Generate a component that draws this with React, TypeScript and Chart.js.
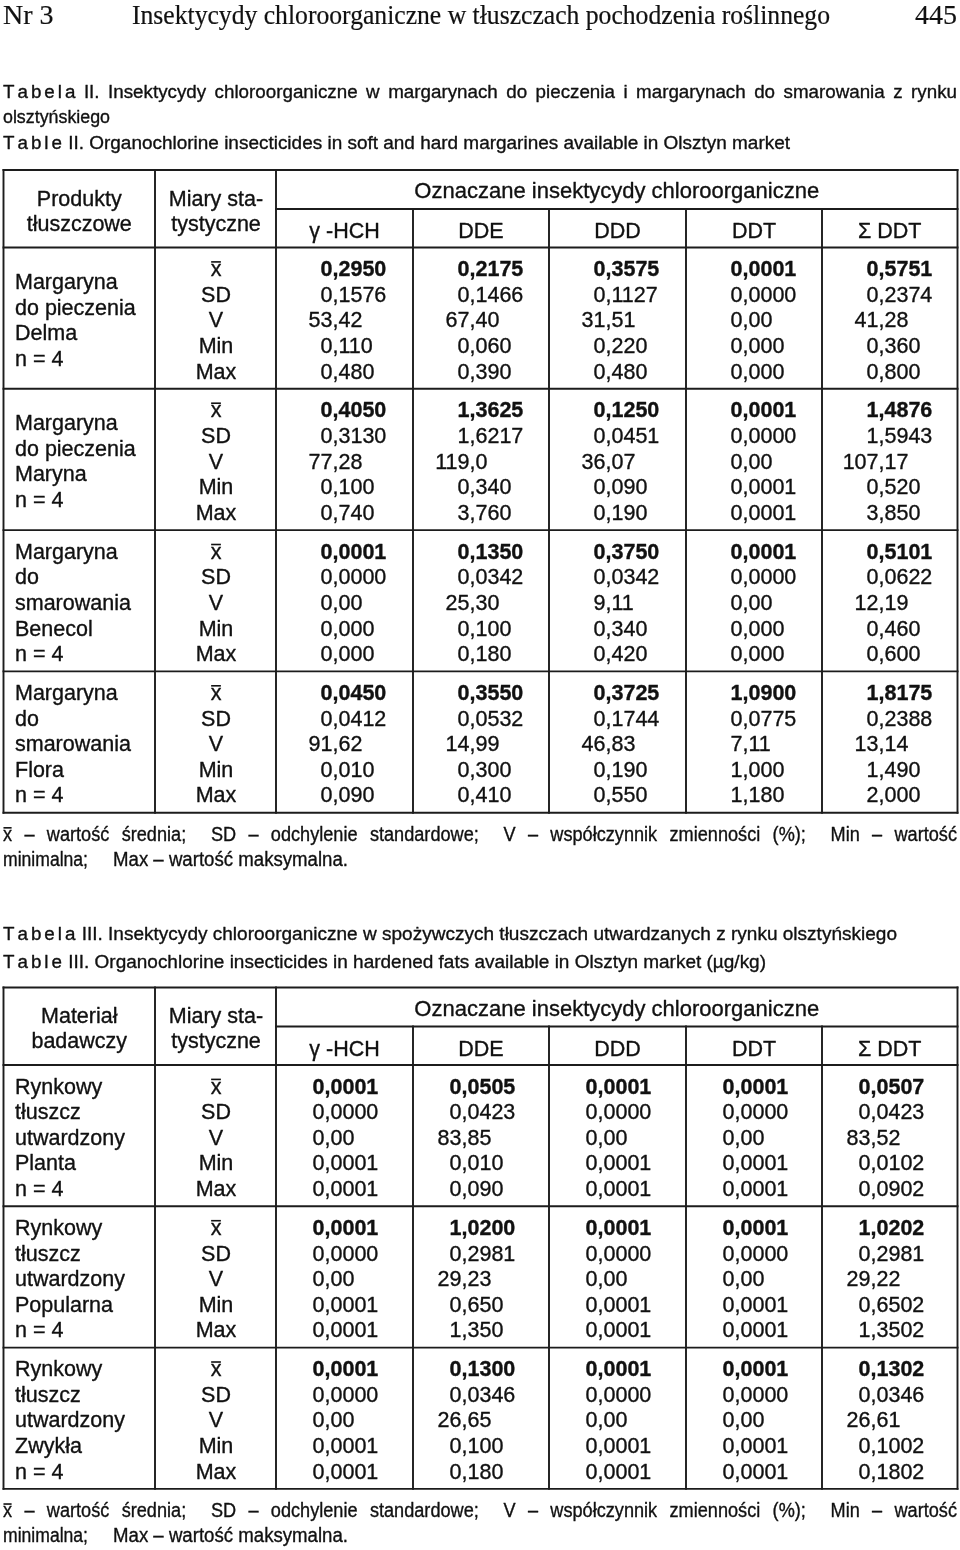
import { useEffect, useRef } from "react";
import { Chart, registerables } from "chart.js";

Chart.register(...registerables);

// ---------------- texts ----------------
const runningHead = ["Nr 3", "Insektycydy chloroorganiczne w tłuszczach pochodzenia roślinnego", "445"];
const table2CaptionPl = [
  "Tabela II. Insektycydy chloroorganiczne w margarynach do pieczenia i margarynach do smarowania z rynku",
  "olsztyńskiego",
];
const table2CaptionEn = "Table II. Organochlorine insecticides in soft and hard margarines available in Olsztyn market";
const table3CaptionPl = "Tabela III. Insektycydy chloroorganiczne w spożywczych tłuszczach utwardzanych z rynku olsztyńskiego";
const table3CaptionEn = "Table III. Organochlorine insecticides in hardened fats available in Olsztyn market (µg/kg)";
const table2FirstHeader = ["Produkty", "tłuszczowe"];
const table3FirstHeader = ["Materiał", "badawczy"];
const statsHeader = ["Miary sta-", "tystyczne"];
const compoundsHeader = "Oznaczane insektycydy chloroorganiczne";
const compounds = ["γ -HCH", "DDE", "DDD", "DDT", "Σ DDT"];
const statistics = ["x\u0304", "SD", "V", "Min", "Max"];
const footnote = [
  "x\u0304 – wartość średnia; SD – odchylenie standardowe; V – współczynnik zmienności (%); Min – wartość",
  "minimalna;",
  "Max – wartość maksymalna.",
];

// ---------------- products ----------------
const table2Products = [
  ["Margaryna", "do pieczenia", "Delma", "n = 4"],
  ["Margaryna", "do pieczenia", "Maryna", "n = 4"],
  ["Margaryna", "do", "smarowania", "Benecol", "n = 4"],
  ["Margaryna", "do", "smarowania", "Flora", "n = 4"],
];
const table3Products = [
  ["Rynkowy", "tłuszcz", "utwardzony", "Planta", "n = 4"],
  ["Rynkowy", "tłuszcz", "utwardzony", "Popularna", "n = 4"],
  ["Rynkowy", "tłuszcz", "utwardzony", "Zwykła", "n = 4"],
];

// ---------------- values: [compound][x̄, SD, V, Min, Max] ----------------
const delmaValues = [
  ["0,2950", "0,1576", "53,42", "0,110", "0,480"],
  ["0,2175", "0,1466", "67,40", "0,060", "0,390"],
  ["0,3575", "0,1127", "31,51", "0,220", "0,480"],
  ["0,0001", "0,0000", "0,00", "0,000", "0,000"],
  ["0,5751", "0,2374", "41,28", "0,360", "0,800"],
];
const marynaValues = [
  ["0,4050", "0,3130", "77,28", "0,100", "0,740"],
  ["1,3625", "1,6217", "119,0", "0,340", "3,760"],
  ["0,1250", "0,0451", "36,07", "0,090", "0,190"],
  ["0,0001", "0,0000", "0,00", "0,0001", "0,0001"],
  ["1,4876", "1,5943", "107,17", "0,520", "3,850"],
];
const benecolValues = [
  ["0,0001", "0,0000", "0,00", "0,000", "0,000"],
  ["0,1350", "0,0342", "25,30", "0,100", "0,180"],
  ["0,3750", "0,0342", "9,11", "0,340", "0,420"],
  ["0,0001", "0,0000", "0,00", "0,000", "0,000"],
  ["0,5101", "0,0622", "12,19", "0,460", "0,600"],
];
const floraValues = [
  ["0,0450", "0,0412", "91,62", "0,010", "0,090"],
  ["0,3550", "0,0532", "14,99", "0,300", "0,410"],
  ["0,3725", "0,1744", "46,83", "0,190", "0,550"],
  ["1,0900", "0,0775", "7,11", "1,000", "1,180"],
  ["1,8175", "0,2388", "13,14", "1,490", "2,000"],
];
const plantaValues = [
  ["0,0001", "0,0000", "0,00", "0,0001", "0,0001"],
  ["0,0505", "0,0423", "83,85", "0,010", "0,090"],
  ["0,0001", "0,0000", "0,00", "0,0001", "0,0001"],
  ["0,0001", "0,0000", "0,00", "0,0001", "0,0001"],
  ["0,0507", "0,0423", "83,52", "0,0102", "0,0902"],
];
const popularnaValues = [
  ["0,0001", "0,0000", "0,00", "0,0001", "0,0001"],
  ["1,0200", "0,2981", "29,23", "0,650", "1,350"],
  ["0,0001", "0,0000", "0,00", "0,0001", "0,0001"],
  ["0,0001", "0,0000", "0,00", "0,0001", "0,0001"],
  ["1,0202", "0,2981", "29,22", "0,6502", "1,3502"],
];
const zwyklaValues = [
  ["0,0001", "0,0000", "0,00", "0,0001", "0,0001"],
  ["0,1300", "0,0346", "26,65", "0,100", "0,180"],
  ["0,0001", "0,0000", "0,00", "0,0001", "0,0001"],
  ["0,0001", "0,0000", "0,00", "0,0001", "0,0001"],
  ["0,1302", "0,0346", "26,61", "0,1002", "0,1802"],
];

const table2Values = [delmaValues, marynaValues, benecolValues, floraValues];
const table3Values = [plantaValues, popularnaValues, zwyklaValues];

// ---------------- layout ----------------
const SANS = '"Liberation Sans", Arial, Helvetica, sans-serif';
const SERIF = '"Liberation Serif", "Times New Roman", serif';
const INK = "#111111";
const RULE = "#1c1c1c";
const COLS = [3.5, 155, 276, 413, 549, 686, 822, 957.5];
const GROUP_H = 141.3;
const ROW_H = 25.6;
const CELL = 21.5;
const BASE = 7.6;

type Item = {
  x: number;
  y: number;
  text: string;
  size: number;
  weight?: string;
  family?: string;
  align?: "left" | "center" | "right" | "comma";
  mode?: "justify" | "fit";
  right?: number;
  sx?: number;
  spaced?: number;
  semiGap?: number;
};

type Seg = { x1: number; y1: number; x2: number; y2: number };

function buildTable(top: number, firstHeader: string[], products: string[][], values: string[][][], commaOff: number) {
  const items: Item[] = [];
  const segs: Seg[] = [];
  const sub = top + 39;
  const hb = top + 77.5;
  const bottom = hb + products.length * GROUP_H;
  const L = COLS[0];
  const R = COLS[7];
  segs.push({ x1: L, y1: top, x2: R, y2: top });
  segs.push({ x1: COLS[2], y1: sub, x2: R, y2: sub });
  segs.push({ x1: L, y1: hb, x2: R, y2: hb });
  products.forEach((_, g) => segs.push({ x1: L, y1: hb + (g + 1) * GROUP_H, x2: R, y2: hb + (g + 1) * GROUP_H }));
  [0, 1, 2, 7].forEach((c) => segs.push({ x1: COLS[c], y1: top, x2: COLS[c], y2: bottom }));
  [3, 4, 5, 6].forEach((c) => segs.push({ x1: COLS[c], y1: sub, x2: COLS[c], y2: bottom }));

  const c0 = (COLS[0] + COLS[1]) / 2;
  const c1 = (COLS[1] + COLS[2]) / 2 + 0.5;
  firstHeader.forEach((t, k) => items.push({ x: c0, y: top + 28 + k * 25 + BASE, text: t, size: CELL, family: SANS, align: "center" }));
  statsHeader.forEach((t, k) => items.push({ x: c1, y: top + 28 + k * 25 + BASE, text: t, size: CELL, family: SANS, align: "center" }));
  items.push({ x: (COLS[2] + COLS[7]) / 2, y: top + 20.5 + BASE, text: compoundsHeader, size: 22, family: SANS, align: "center" });
  compounds.forEach((t, c) =>
    items.push({ x: (COLS[2 + c] + COLS[3 + c]) / 2, y: top + 60.5 + BASE, text: t, size: CELL, family: SANS, align: "center" })
  );

  products.forEach((lines, g) => {
    const first = hb + g * GROUP_H + 21;
    const off = lines.length === 4 ? ROW_H / 2 : 0;
    lines.forEach((t, k) => items.push({ x: 15, y: first + off + k * ROW_H + BASE, text: t, size: CELL, family: SANS, align: "left" }));
    statistics.forEach((t, r) => items.push({ x: c1, y: first + r * ROW_H + BASE, text: t, size: CELL, family: SANS, align: "center" }));
    values[g].forEach((col, c) =>
      col.forEach((v, r) =>
        items.push({
          x: COLS[2 + c] + commaOff,
          y: first + r * ROW_H + BASE,
          text: v,
          size: CELL,
          family: SANS,
          weight: r === 0 ? "bold" : "normal",
          align: "comma",
        })
      )
    );
  });
  return { items, segs, bottom };
}

function buildPage() {
  const items: Item[] = [];
  items.push({ x: 3, y: 24, text: runningHead[0], size: 28, family: SERIF, align: "left" });
  items.push({ x: 132, y: 24, text: runningHead[1], size: 28, family: SERIF, mode: "fit", right: 830 });
  items.push({ x: 957, y: 24, text: runningHead[2], size: 28, family: SERIF, align: "right" });

  items.push({ x: 3, y: 98, text: table2CaptionPl[0], size: 18.8, family: SANS, mode: "justify", right: 957, spaced: 3, sx: 1 });
  items.push({ x: 3, y: 123, text: table2CaptionPl[1], size: 18.8, family: SANS, mode: "fit", right: 110 });
  items.push({ x: 3, y: 149, text: table2CaptionEn, size: 18.8, family: SANS, mode: "fit", right: 790, spaced: 3 });

  const t2 = buildTable(170, table2FirstHeader, table2Products, table2Values, 56.5);
  items.push(...t2.items);
  const f2 = t2.bottom + 28;
  items.push({ x: 3, y: f2, text: footnote[0], size: 19.5, family: SANS, mode: "justify", right: 957, sx: 0.93, semiGap: 2 });
  items.push({ x: 3, y: f2 + 25, text: footnote[1], size: 19.5, family: SANS, mode: "fit", right: 88 });
  items.push({ x: 113, y: f2 + 25, text: footnote[2], size: 19.5, family: SANS, mode: "fit", right: 348 });

  items.push({ x: 3, y: 940, text: table3CaptionPl, size: 18.8, family: SANS, mode: "fit", right: 897, spaced: 3 });
  items.push({ x: 3, y: 968, text: table3CaptionEn, size: 18.8, family: SANS, mode: "fit", right: 766, spaced: 3 });

  const t3 = buildTable(987.5, table3FirstHeader, table3Products, table3Values, 48.5);
  items.push(...t3.items);
  const f3 = t3.bottom + 28;
  items.push({ x: 3, y: f3, text: footnote[0], size: 19.5, family: SANS, mode: "justify", right: 957, sx: 0.93, semiGap: 2 });
  items.push({ x: 3, y: f3 + 25, text: footnote[1], size: 19.5, family: SANS, mode: "fit", right: 88 });
  items.push({ x: 113, y: f3 + 25, text: footnote[2], size: 19.5, family: SANS, mode: "fit", right: 348 });

  return { items, segs: [...t2.segs, ...t3.segs] };
}

// ---------------- drawing helpers ----------------
function ink(ctx: CanvasRenderingContext2D, t: string, x: number, y: number) {
  ctx.fillText(t, x, y);
  ctx.strokeText(t, x, y);
}

function wordWidth(ctx: CanvasRenderingContext2D, w: string, spacing: number) {
  const base = w.replace(/\u0304/g, "");
  if (!spacing) return ctx.measureText(base).width;
  let t = 0;
  for (const ch of base) t += ctx.measureText(ch).width + spacing;
  return t - spacing;
}

function drawWord(ctx: CanvasRenderingContext2D, w: string, x: number, y: number, spacing: number, sx: number, size: number) {
  const hasBar = w.includes("\u0304");
  const base = w.replace(/\u0304/g, "");
  ctx.save();
  ctx.translate(x, y);
  ctx.scale(sx, 1);
  if (spacing) {
    let cx = 0;
    for (const ch of base) {
      ink(ctx, ch, cx, 0);
      cx += ctx.measureText(ch).width + spacing;
    }
  } else {
    ink(ctx, base, 0, 0);
  }
  if (hasBar) {
    const bw = ctx.measureText(base[0]).width;
    ctx.fillRect(0.5, -size * 0.66 - 0.8, bw - 1, 1.6);
  }
  ctx.restore();
}

function drawItem(ctx: CanvasRenderingContext2D, it: Item, px: number, py: number, toPx: (v: number) => number) {
  ctx.save();
  ctx.font = `${it.weight || "normal"} ${it.size}px ${it.family || SANS}`;
  ctx.fillStyle = INK;
  ctx.strokeStyle = INK;
  ctx.lineWidth = it.family === SERIF ? 0.2 : 0.35;
  ctx.lineJoin = "round";
  ctx.textBaseline = "alphabetic";
  ctx.textAlign = "left";
  const sx = it.sx ?? 1;
  if (it.mode === "justify") {
    const words = it.text.split(" ");
    const ws = words.map((w, k) => wordWidth(ctx, w, k === 0 ? it.spaced || 0 : 0) * sx);
    const weights = words.slice(0, -1).map((w) => (w.endsWith(";") ? it.semiGap ?? 1 : 1));
    const right = toPx(it.right as number);
    const free = right - px - ws.reduce((a, b) => a + b, 0);
    const unit = free / weights.reduce((a, b) => a + b, 0);
    let cx = px;
    words.forEach((w, k) => {
      drawWord(ctx, w, cx, py, k === 0 ? it.spaced || 0 : 0, sx, it.size);
      cx += ws[k] + (k < weights.length ? weights[k] * unit : 0);
    });
  } else if (it.mode === "fit") {
    const right = toPx(it.right as number);
    let cx = px;
    let rest = it.text;
    if (it.spaced) {
      const sp = rest.indexOf(" ");
      const first = rest.slice(0, sp);
      drawWord(ctx, first, cx, py, it.spaced, 1, it.size);
      cx += wordWidth(ctx, first, it.spaced) + ctx.measureText(" ").width + 1;
      rest = rest.slice(sp + 1);
    }
    const nat = ctx.measureText(rest).width;
    drawWord(ctx, rest, cx, py, 0, (right - cx) / nat, it.size);
  } else if (it.align === "comma") {
    const k = it.text.indexOf(",");
    const intPart = it.text.slice(0, k);
    const frac = it.text.slice(k);
    ink(ctx, intPart, px - ctx.measureText(intPart).width, py);
    ink(ctx, frac, px, py);
  } else {
    const w = wordWidth(ctx, it.text, 0);
    const x0 = it.align === "center" ? px - w / 2 : it.align === "right" ? px - w : px;
    drawWord(ctx, it.text, x0, py, 0, 1, it.size);
  }
  ctx.restore();
}

const pagePlugin = {
  id: "pageText",
  beforeDraw(chart: any) {
    const { ctx, width, height } = chart;
    ctx.save();
    ctx.fillStyle = "#ffffff";
    ctx.fillRect(0, 0, width, height);
    ctx.restore();
  },
  afterDatasetsDraw(chart: any) {
    const toPx = (v: number) => chart.scales.x.getPixelForValue(v);
    chart.data.datasets.forEach((ds: any, i: number) => {
      if (!ds.isText) return;
      const meta = chart.getDatasetMeta(i);
      meta.data.forEach((el: any, j: number) => drawItem(chart.ctx, ds.data[j], el.x, el.y, toPx));
    });
  },
};

export default function App() {
  const ref = useRef<HTMLCanvasElement>(null);
  useEffect(() => {
    document.body.style.margin = "0";
    const { items, segs } = buildPage();
    const datasets: any[] = segs.map((s) => ({
      data: [
        { x: s.x1, y: s.y1 },
        { x: s.x2, y: s.y2 },
      ],
      showLine: true,
      borderColor: RULE,
      borderWidth: 1.9,
      borderCapStyle: "square",
      pointRadius: 0,
      pointHoverRadius: 0,
      fill: false,
    }));
    datasets.push({ isText: true, data: items, pointRadius: 0, pointHoverRadius: 0, showLine: false });
    const chart = new Chart(ref.current as HTMLCanvasElement, {
      type: "scatter",
      data: { datasets },
      options: {
        animation: false,
        responsive: false,
        devicePixelRatio: 1,
        events: [],
        layout: { padding: 0 },
        plugins: { legend: { display: false }, tooltip: { enabled: false }, title: { display: false } },
        scales: {
          x: { type: "linear", min: 0, max: 960, display: false },
          y: { type: "linear", min: 0, max: 1550, reverse: true, display: false },
        },
      },
      plugins: [pagePlugin],
    } as any);
    return () => chart.destroy();
  }, []);

  return (
    <div style={{ width: 960, height: 1550, background: "#fff" }}>
      <canvas ref={ref} width={960} height={1550} style={{ display: "block" }}>
        {runningHead.join(" ")} {table2CaptionPl.join(" ")} {table2CaptionEn} {table3CaptionPl} {table3CaptionEn}{" "}
        {compounds.join(" ")} {footnote.join(" ")}
      </canvas>
    </div>
  );
}
